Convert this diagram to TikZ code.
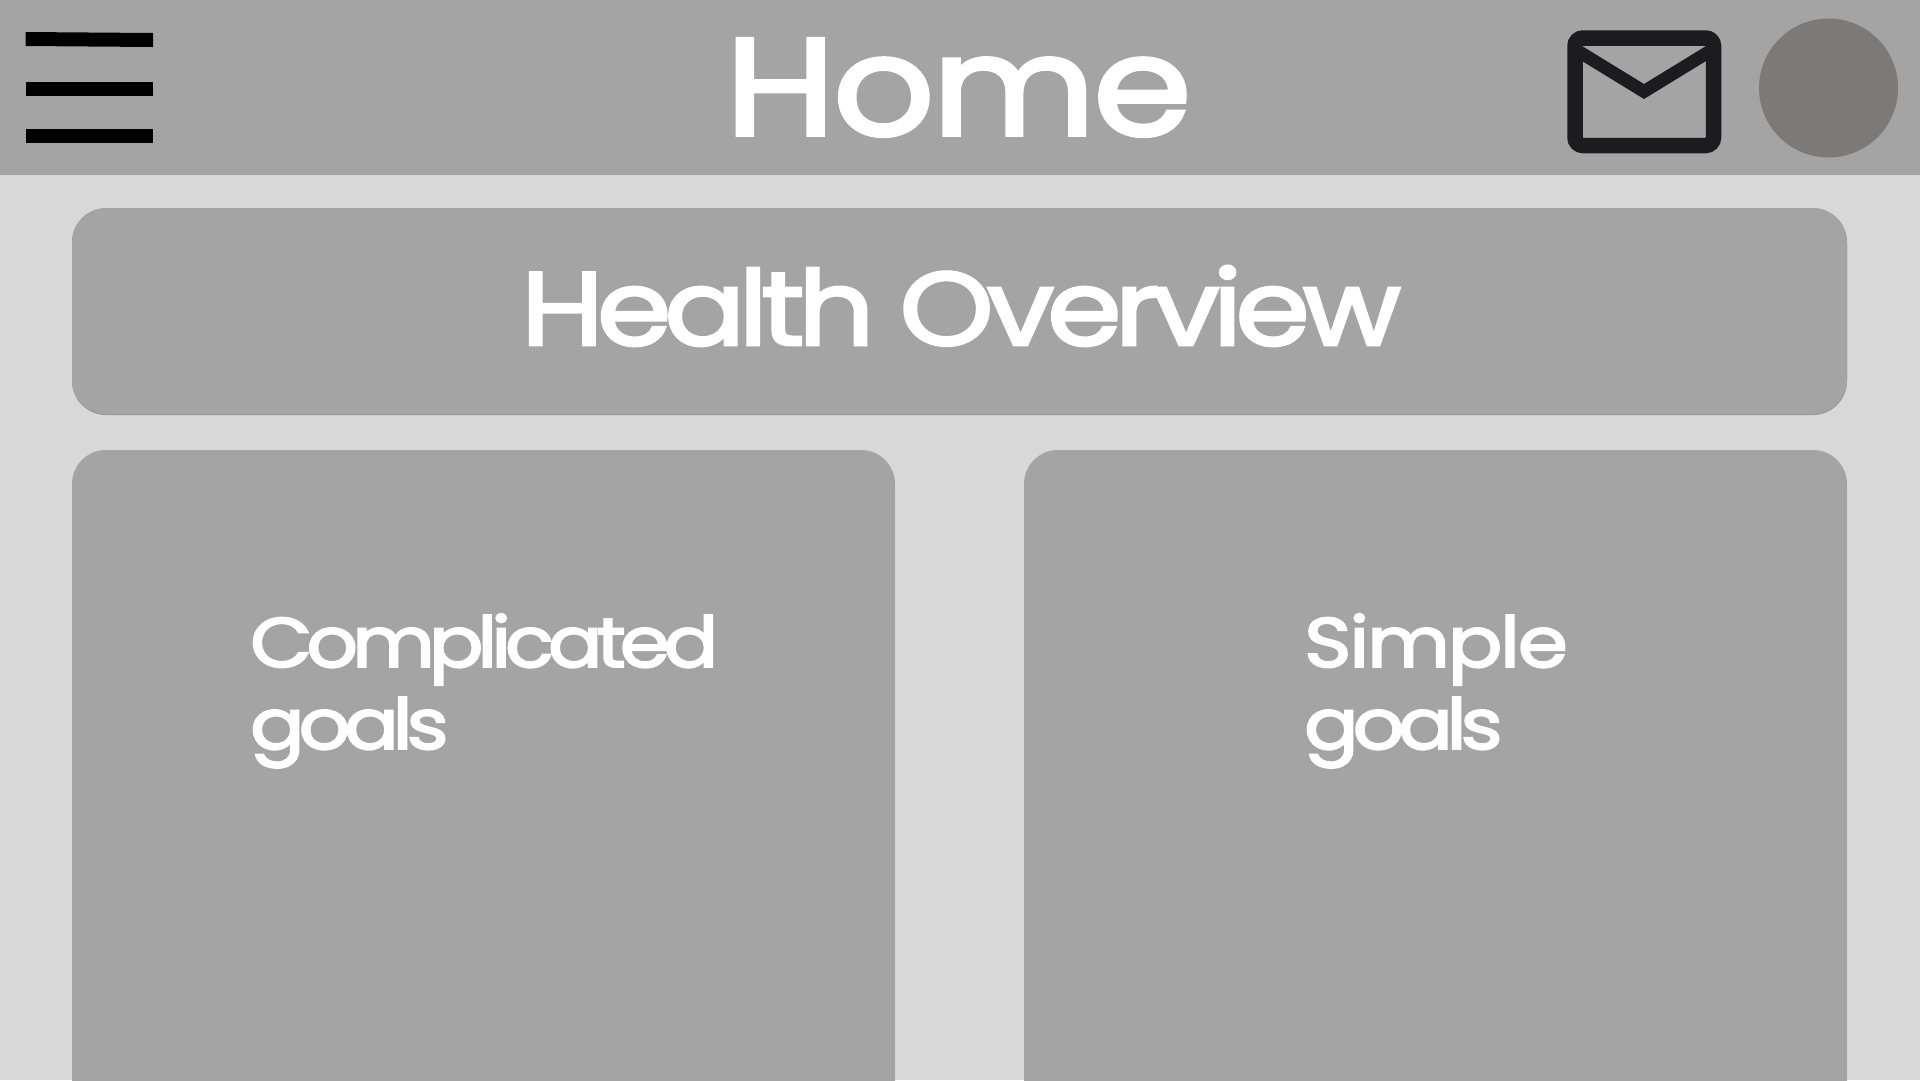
\documentclass[tikz,border=0pt]{standalone}
\usepackage{fontspec}
\newfontfamily\homefont[FakeStretch=1.15,LetterSpace=-1.7,FakeBold=2.8]{Poppins}
\newfontfamily\overviewfont[FakeStretch=1.15,LetterSpace=-6.5,FakeBold=2.8]{Poppins}
\newfontfamily\goalfont[FakeStretch=1.15,LetterSpace=-8.5,FakeBold=2.8]{Poppins}
\newfontfamily\simplefont[FakeStretch=1.15,LetterSpace=-3,FakeBold=2.8]{Poppins}
\definecolor{pagegrey}{HTML}{D8D8D8}
\definecolor{cardgrey}{HTML}{A4A4A4}
\definecolor{iconblack}{HTML}{1C1B1F}
\definecolor{avatargrey}{HTML}{7D7977}
\tikzset{
    cardbox/.style={fill=cardgrey, rounded corners=34pt},
    titletext/.style={text=white, inner sep=0pt, anchor=base},
    goaltext/.style={text=white, inner sep=0pt, anchor=base west, align=left,
        font=\goalfont\fontsize{70}{82}\selectfont}
}
\begin{document}
\begin{tikzpicture}[x=1pt, y=-1pt]
    \useasboundingbox (0,0) rectangle (1920,1080);
    \clip (0,0) rectangle (1920,1080);
    \fill[pagegrey] (0,0) rectangle (1920,1080);
    % header
    \fill[cardgrey] (0,0) rectangle (1920,175);
    \fill[black] (25.5,32) -- (153,33) -- (153,47) -- (25.5,46) -- cycle;
    \fill[black] (26,82) rectangle (153,96);
    \fill[black] (26,129) rectangle (153,143);
    \node[titletext, font=\homefont\fontsize{138}{138}\selectfont] (home) at (958.5,135) {Home};
    % mail icon
    \draw[iconblack, line width=15.5pt, rounded corners=8pt] (1575,38) rectangle (1713.5,145.5);
    \fill[iconblack] (1582,46) -- (1644,84) -- (1706,46) -- (1706,61) -- (1644,99) -- (1582,61) -- cycle;
    \fill[avatargrey] (1828.5,88) circle (69.5);
    % cards
    \fill[cardgrey!92!black, rounded corners=34pt] (72,209) rectangle (1847,415);
    \path[cardbox] (72,208) rectangle (1847,414);
    \node[titletext, font=\overviewfont\fontsize{104}{104}\selectfont] (overview) at (961,345) {Health Overview};
    \path[cardbox] (72,450) rectangle (895,1200);
    \path[cardbox] (1024,450) rectangle (1847,1200);
    \node[goaltext] (complicated) at (250,749) {Complicated\\goals};
    \node[goaltext] (simple) at (1304,749) {{\simplefont Simple}\\goals};
\end{tikzpicture}
\end{document}
